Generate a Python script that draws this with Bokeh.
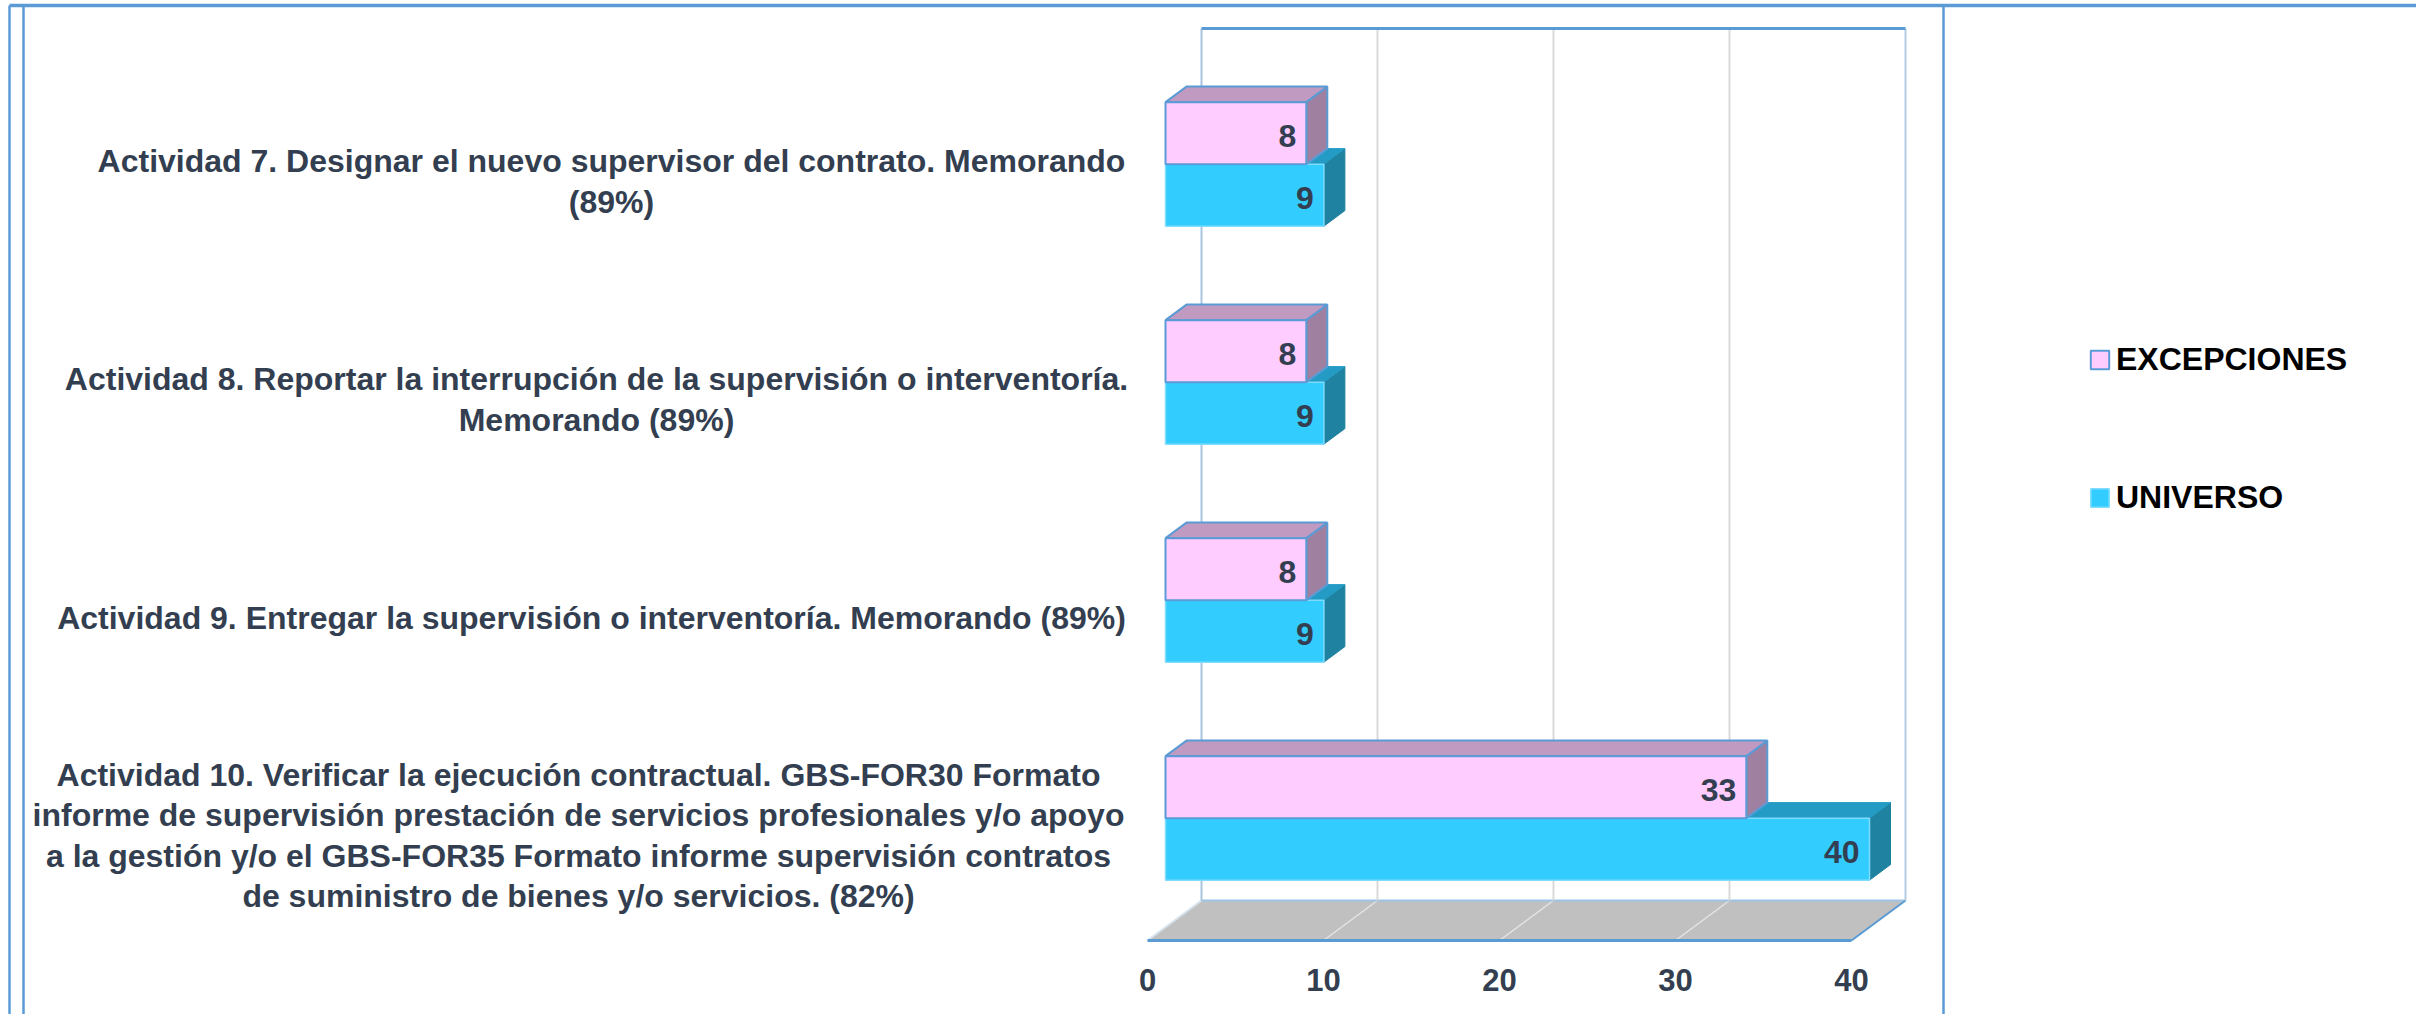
from bokeh.plotting import figure
from bokeh.models import Range1d, Legend, LegendItem, ColumnDataSource
from bokeh.core.properties import value
from bokeh.embed import file_html
from bokeh.resources import INLINE

# ---------------- data ----------------
categories = [
    "Actividad 10. Verificar la ejecución contractual. GBS-FOR30 Formato\n"
    "informe de supervisión prestación de servicios profesionales y/o apoyo\n"
    "a la gestión y/o el GBS-FOR35 Formato informe supervisión contratos\n"
    "de suministro de bienes y/o servicios. (82%)",
    "Actividad 9. Entregar la supervisión o interventoría. Memorando (89%)",
    "Actividad 8. Reportar la interrupción de la supervisión o interventoría.\n"
    "Memorando (89%)",
    "Actividad 7. Designar el nuevo supervisor del contrato. Memorando\n"
    "(89%)",
]
universo = [40, 9, 9, 9]
excepciones = [33, 8, 8, 8]
x_ticks = [0, 10, 20, 30, 40]
series_names = ["EXCEPCIONES", "UNIVERSO"]

# ---------------- layout constants ----------------
W, H = 2416, 1014
PAGE = 0
X0, SX = 1147.0, 17.6      # page px of value 0 (front plane), px per unit
Y0, SY = 831.0, 218.0      # page px of first category centre (front plane), px per category
LABEL_CX = [578, 591, 596, 611]   # page px centre of each category text block
LABEL_DY = 4.0
VALUE_DY = 3.0
TICK_Y = 979
FONT = "Liberation Sans"
TXT = "#333f50"
BLUE = "#5b9bd5"


def xd(px):
    return (px - X0) / SX


def yd(py):
    return (Y0 - py) / SY


DX = 54.0 / SX      # full depth shift (x, data units)
DY = 40.0 / SY      # full depth shift (y, data units)
D0 = 18.0 / 54.0    # bar front depth
D1 = D0 + 21.0 / 54.0  # bar back depth
BH = 62.0 / SY      # bar height (category units)
XMAX = x_ticks[-1]
KLO, KHI = -0.5, len(categories) - 0.5


def P(v, k, d):
    return v + d * DX, k + d * DY


def poly(pts):
    xs, ys = zip(*[P(*p) for p in pts])
    return list(xs), list(ys)


p = figure(width=W, height=H, x_range=Range1d(xd(PAGE), xd(PAGE + W)),
           y_range=Range1d(yd(PAGE + H), yd(PAGE)),
           x_axis_type=None, y_axis_type=None, toolbar_location=None,
           output_backend="svg", min_border=0)
p.outline_line_color = None
p.background_fill_color = "white"
p.border_fill_color = "white"
p.grid.visible = False

# ---------------- floor ----------------
fx, fy = poly([(0, KLO, 0), (XMAX, KLO, 0), (XMAX, KLO, 1), (0, KLO, 1)])
p.patch(fx, fy, fill_color="#c0c0c0", line_color=None)
for v in x_ticks[1:-1]:
    sx, sy = poly([(v, KLO, 0), (v, KLO, 1)])
    p.line(sx, sy, line_color="#e4e4e4", line_width=1.5)
sx, sy = poly([(0, KLO, 0), (0, KLO, 1)])
p.line(sx, sy, line_color="#d6e2ee", line_width=2)
sx, sy = poly([(0, KLO, 1), (XMAX, KLO, 1)])
p.line(sx, sy, line_color="#9dc3e6", line_width=2)
sx, sy = poly([(XMAX, KLO, 0), (XMAX, KLO, 1)])
p.line(sx, sy, line_color=BLUE, line_width=2)
sx, sy = poly([(0, KLO, 0), (XMAX, KLO, 0)])
p.line(sx, sy, line_color=BLUE, line_width=3)

# ---------------- back wall ----------------
for v in x_ticks[1:-1]:
    sx, sy = poly([(v, KLO, 1), (v, KHI, 1)])
    p.line(sx, sy, line_color="#d9d9d9", line_width=2)
sx, sy = poly([(0, KLO, 1), (0, KHI, 1)])
p.line(sx, sy, line_color="#a9c4de", line_width=2)
sx, sy = poly([(XMAX, KLO, 1), (XMAX, KHI, 1)])
p.line(sx, sy, line_color="#b4cde6", line_width=2)
sx, sy = poly([(0, KHI, 1), (XMAX, KHI, 1)])
p.line(sx, sy, line_color=BLUE, line_width=3)

# ---------------- bars ----------------
def bar_faces(vals, lo_off):
    front, top, side = ([], []), ([], []), ([], [])
    for k, v in enumerate(vals):
        y0 = k + lo_off
        y1 = y0 + BH
        for acc, pts in ((front, [(0, y0, D0), (v, y0, D0), (v, y1, D0), (0, y1, D0)]),
                         (top, [(0, y1, D0), (v, y1, D0), (v, y1, D1), (0, y1, D1)]),
                         (side, [(v, y0, D0), (v, y0, D1), (v, y1, D1), (v, y1, D0)])):
            xs, ys = poly(pts)
            acc[0].append(xs)
            acc[1].append(ys)
    return front, top, side


cf, ct, cs = bar_faces(universo, -BH)
p.patches(cs[0], cs[1], fill_color="#1f82a0", line_color="#1f82a0", line_width=1)
p.patches(ct[0], ct[1], fill_color="#249bc4", line_color="#249bc4", line_width=1)
r_uni = p.patches(cf[0], cf[1], fill_color="#33ccff", line_color="#7fdcff", line_width=1.5)

pf, pt, ps = bar_faces(excepciones, 0.0)
p.patches(ps[0], ps[1], fill_color="#a080a0", line_color=BLUE, line_width=2)
p.patches(pt[0], pt[1], fill_color="#c19ac1", line_color=BLUE, line_width=2)
r_exc = p.patches(pf[0], pf[1], fill_color="#ffccff", line_color=BLUE, line_width=2)

# ---------------- data labels ----------------
vdy = VALUE_DY / SY
lab_src = ColumnDataSource(dict(
    x=[v + D0 * DX - 10.0 / SX for v in universo] + [v + D0 * DX - 10.0 / SX for v in excepciones],
    y=[k - BH / 2 + D0 * DY - vdy for k in range(len(universo))]
      + [k + BH / 2 + D0 * DY - vdy for k in range(len(excepciones))],
    t=[str(v) for v in universo] + [str(v) for v in excepciones]))
p.text("x", "y", text="t", source=lab_src, text_align="right", text_baseline="middle",
       text_font=value(FONT), text_font_size="32px", text_font_style="bold", text_color=TXT)

# ---------------- tick labels ----------------
p.text(x=x_ticks, y=[yd(TICK_Y)] * len(x_ticks), text=[str(t) for t in x_ticks],
       text_align="center", text_baseline="middle", text_font=value(FONT),
       text_font_size="31px", text_font_style="bold", text_color=TXT)

# ---------------- category labels ----------------
p.text(x=[xd(c) for c in LABEL_CX], y=[k - LABEL_DY / SY for k in range(len(categories))],
       text=categories, text_align="center", text_baseline="middle", text_font=value(FONT),
       text_font_size="32px", text_font_style="bold", text_color=TXT, text_line_height=1.12)

# ---------------- page frame lines ----------------
for px in (9, 23, 1943):
    p.line([xd(px), xd(px)], [yd(5), yd(PAGE + H)], line_color=BLUE, line_width=2.5)
p.line([xd(9), xd(PAGE + W)], [yd(5), yd(5)], line_color=BLUE, line_width=3.5)

# ---------------- legend ----------------
GL = 23
legend = Legend(items=[LegendItem(label=series_names[0], renderers=[r_exc]),
                       LegendItem(label=series_names[1], renderers=[r_uni])],
                location=(2088 - PAGE, (PAGE + H) - 516), orientation="vertical",
                glyph_width=GL, glyph_height=GL, label_height=36, spacing=101,
                label_standoff=5, padding=0, margin=0,
                label_text_font=FONT, label_text_font_size="32px",
                label_text_font_style="bold", label_text_color="black",
                border_line_color=None, background_fill_alpha=0)
p.add_layout(legend)

open("out.html", "w").write(file_html(p, INLINE))
